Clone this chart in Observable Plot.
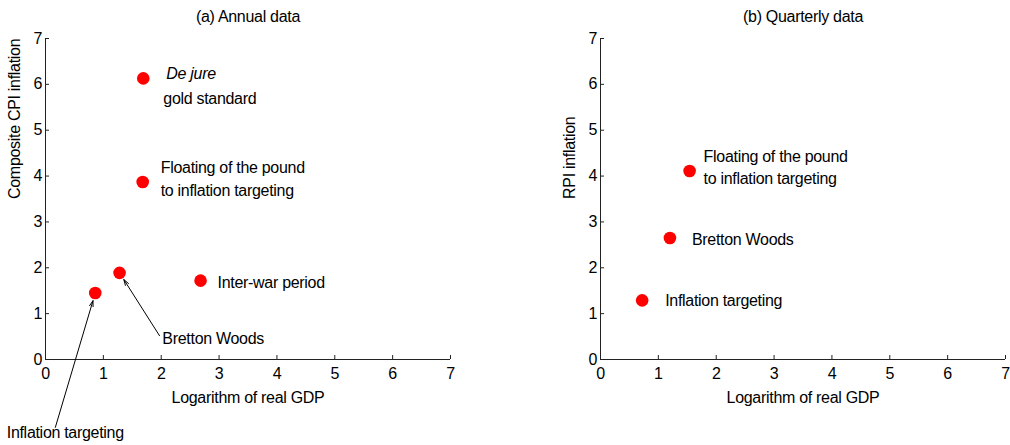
<!DOCTYPE html>
<html><head><meta charset="utf-8">
<script src="https://cdn.jsdelivr.net/npm/d3@7"></script>
<script src="https://cdn.jsdelivr.net/npm/@observablehq/plot@0.6"></script>
<style>
body{margin:0;background:#fff;}
#wrap{display:flex;width:1010px;height:445px;overflow:hidden;}
</style></head><body><div id="wrap"></div>
<script>
const axisTicks = [0, 1, 2, 3, 4, 5, 6, 7];

// Panel (a) Annual data
const annualPeriods = ["De jure gold standard", "Floating of the pound to inflation targeting", "Bretton Woods", "Inflation targeting", "Inter-war period"];
const annualGDP = [1.69, 1.68, 1.28, 0.86, 2.68];
const annualCPI = [6.13, 3.87, 1.89, 1.45, 1.72];

// Panel (b) Quarterly data
const quarterlyPeriods = ["Floating of the pound to inflation targeting", "Bretton Woods", "Inflation targeting"];
const quarterlyGDP = [1.54, 1.20, 0.72];
const quarterlyRPI = [4.11, 2.65, 1.29];

// Arrowed annotations of panel (a): label anchor and arrow tail, in data units
const arrowLabels = ["Bretton Woods", "Inflation targeting"];
const arrowLabelX = [2.02, -0.67];
const arrowLabelY = [0.46, -1.59];
const arrowTailX = [1.97, 0.17];
const arrowTailY = [0.52, -1.48];

const annual = annualPeriods.map((p, i) => ({period: p, gdp: annualGDP[i], infl: annualCPI[i]}));
const quarterly = quarterlyPeriods.map((p, i) => ({period: p, gdp: quarterlyGDP[i], infl: quarterlyRPI[i]}));
const arrowRows = arrowLabels.map((l, i) => {
  const pt = annual.find(d => d.period === l);
  return {label: l, lx: arrowLabelX[i], ly: arrowLabelY[i], tx: arrowTailX[i], ty: arrowTailY[i], px: pt.gdp, py: pt.infl};
});

const FONT = "Arial, 'Liberation Sans', Helvetica, sans-serif";

function pointLabel(rows, period, text, dx, dy, extra = {}) {
  return Plot.text(rows.filter(d => d.period === period), {
    x: "gdp", y: "infl", text: () => text, dx, dy,
    textAnchor: "start", lineAnchor: "middle", lineHeight: 1.41, fill: "#000", ...extra
  });
}

function panel({title, ylabel, rows, marginLeft, marginRight, labels, extraMarks = []}) {
  return Plot.plot({
    width: 505, height: 445,
    marginLeft, marginRight, marginTop: 38, marginBottom: 86,
    style: {fontFamily: FONT, fontSize: "16px", letterSpacing: "-0.3px", color: "#000", background: "#fff", overflow: "visible"},
    x: {domain: [0, 7], label: null},
    y: {domain: [0, 7], label: null},
    marks: [
      Plot.ruleY([0], {stroke: "#222"}),
      Plot.ruleX([0], {stroke: "#222"}),
      Plot.axisX({ticks: axisTicks, tickFormat: d3.format("d"), tickSize: -4, tickPadding: 12, label: null, stroke: "#222"}),
      Plot.axisY({ticks: axisTicks, tickFormat: d3.format("d"), tickSize: -4, tickPadding: 7.5, label: null, stroke: "#222"}),
      Plot.text([title], {text: d => d, frameAnchor: "top", dy: -22, lineAnchor: "middle", fill: "#000"}),
      Plot.text(["Logarithm of real GDP"], {text: d => d, frameAnchor: "bottom", dy: 38, lineAnchor: "middle", fill: "#000"}),
      Plot.text([ylabel], {text: d => d, frameAnchor: "left", dx: -31, rotate: -90, lineAnchor: "middle", fill: "#000"}),
      Plot.dot(rows, {x: "gdp", y: "infl", r: 6.3, fill: "#ff0000", stroke: null}),
      ...labels,
      ...extraMarks
    ]
  });
}

const left = panel({
  title: "(a) Annual data",
  ylabel: "Composite CPI inflation",
  rows: annual,
  marginLeft: 45, marginRight: 55,
  labels: [
    pointLabel(annual, "De jure gold standard", "De jure", 23, -7, {fontStyle: "italic"}),
    pointLabel(annual, "De jure gold standard", "gold standard", 20, 18),
    pointLabel(annual, "Floating of the pound to inflation targeting", "Floating of the pound\nto inflation targeting", 18, -4.5),
    pointLabel(annual, "Inter-war period", "Inter-war period", 17, 0)
  ],
  extraMarks: [
    Plot.arrow(arrowRows, {x1: "tx", y1: "ty", x2: "px", y2: "py", insetEnd: 8, headLength: 9, headAngle: 35, strokeWidth: 1, stroke: "#000"}),
    Plot.text(arrowRows, {x: "lx", y: "ly", text: "label", textAnchor: "start", lineAnchor: "middle", fill: "#000"})
  ]
});

const right = panel({
  title: "(b) Quarterly data",
  ylabel: "RPI inflation",
  rows: quarterly,
  marginLeft: 95, marginRight: 5,
  labels: [
    pointLabel(quarterly, "Floating of the pound to inflation targeting", "Floating of the pound\nto inflation targeting", 14, -5, {lineHeight: 1.4}),
    pointLabel(quarterly, "Bretton Woods", "Bretton Woods", 22, 0),
    pointLabel(quarterly, "Inflation targeting", "Inflation targeting", 23, -1.5)
  ]
});

const wrap = document.getElementById("wrap");
wrap.appendChild(left);
wrap.appendChild(right);
</script></body></html>
